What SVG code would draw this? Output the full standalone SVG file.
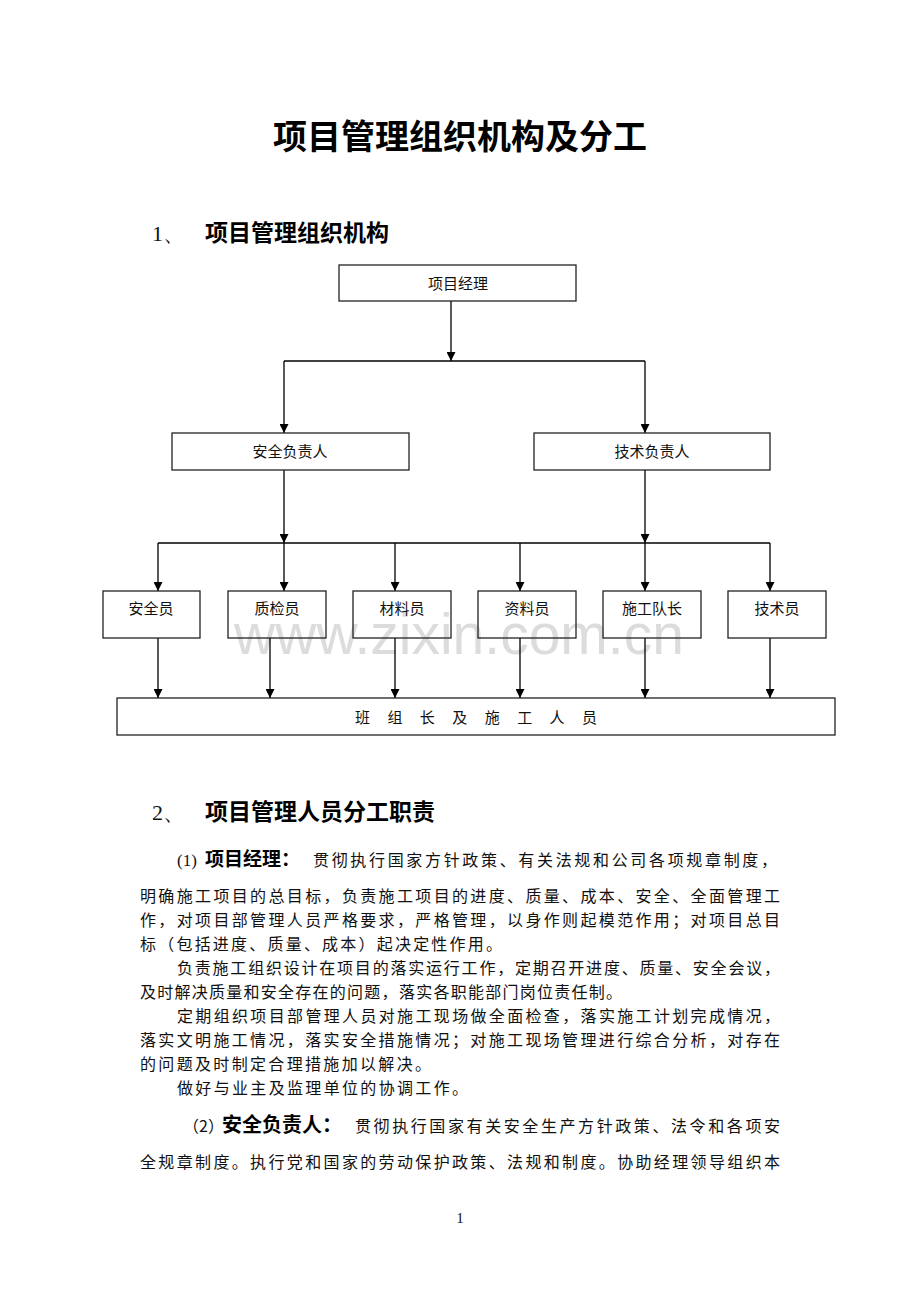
<svg xmlns="http://www.w3.org/2000/svg" width="920" height="1302" viewBox="0 0 920 1302">
<defs>
<style>
.cjk{font-family:"Noto Sans CJK SC","Liberation Serif",sans-serif;fill:#000}
.lbl{font-family:"Noto Sans CJK SC",sans-serif;font-size:15px;fill:#111;text-anchor:middle}
.box{fill:none;stroke:#222;stroke-width:1.3}
.cn{fill:none;stroke:#000;stroke-width:1.3}
.body{font-family:"Noto Sans CJK SC",sans-serif;font-size:16px;fill:#111}
.bold{font-family:"Noto Sans CJK SC",sans-serif;font-weight:bold;fill:#000}
.ser{font-family:"Liberation Serif",serif;fill:#111}
</style>
<marker id="ah" viewBox="0 0 10 10" refX="10" refY="5" markerWidth="12" markerHeight="9" orient="auto" markerUnits="userSpaceOnUse">
<path d="M0,0 L10,5 L0,10 z" fill="#000"/>
</marker>
</defs>
<rect width="920" height="1302" fill="#fff"/>

<text x="460" y="149" class="bold" font-size="34" text-anchor="middle">项目管理组织机构及分工</text>
<text x="152" y="241" class="ser" font-size="22">1、</text>
<text x="205" y="241" class="bold" font-size="23">项目管理组织机构</text>

<text x="459" y="654" font-family="Liberation Sans, sans-serif" font-size="57" fill="#dcdcdc" text-anchor="middle">www.zixin.com.cn</text>

<g id="connectors">
<path class="cn" d="M451,301 V361" marker-end="url(#ah)"/>
<path class="cn" d="M284,361 H645"/>
<path class="cn" d="M284,361 V433" marker-end="url(#ah)"/>
<path class="cn" d="M645,361 V433" marker-end="url(#ah)"/>
<path class="cn" d="M284,470 V543" marker-end="url(#ah)"/>
<path class="cn" d="M645,470 V543" marker-end="url(#ah)"/>
<path class="cn" d="M158,543 H770"/>
<path class="cn" d="M158,543 V591" marker-end="url(#ah)"/>
<path class="cn" d="M284,543 V591" marker-end="url(#ah)"/>
<path class="cn" d="M395,543 V591" marker-end="url(#ah)"/>
<path class="cn" d="M520,543 V591" marker-end="url(#ah)"/>
<path class="cn" d="M645,543 V591" marker-end="url(#ah)"/>
<path class="cn" d="M770,543 V591" marker-end="url(#ah)"/>
<path class="cn" d="M158,638 V698" marker-end="url(#ah)"/>
<path class="cn" d="M270,638 V698" marker-end="url(#ah)"/>
<path class="cn" d="M395,638 V698" marker-end="url(#ah)"/>
<path class="cn" d="M520,638 V698" marker-end="url(#ah)"/>
<path class="cn" d="M645,638 V698" marker-end="url(#ah)"/>
<path class="cn" d="M770,638 V698" marker-end="url(#ah)"/>
</g>

<g id="n-pm"><rect class="box" x="339" y="265" width="237" height="36"/><text class="lbl" x="458" y="289">项目经理</text></g>
<g id="n-safety-lead"><rect class="box" x="172" y="433" width="237" height="37"/><text class="lbl" x="290" y="457">安全负责人</text></g>
<g id="n-tech-lead"><rect class="box" x="534" y="433" width="236" height="37"/><text class="lbl" x="652" y="457">技术负责人</text></g>
<g id="n-safety"><rect class="box" x="103" y="591" width="97" height="47"/><text class="lbl" x="151" y="614">安全员</text></g>
<g id="n-qc"><rect class="box" x="228" y="591" width="98" height="47"/><text class="lbl" x="277" y="614">质检员</text></g>
<g id="n-material"><rect class="box" x="353" y="591" width="98" height="47"/><text class="lbl" x="402" y="614">材料员</text></g>
<g id="n-docs"><rect class="box" x="478" y="591" width="98" height="47"/><text class="lbl" x="527" y="614">资料员</text></g>
<g id="n-foreman"><rect class="box" x="603" y="591" width="98" height="47"/><text class="lbl" x="652" y="614">施工队长</text></g>
<g id="n-tech"><rect class="box" x="728" y="591" width="98" height="47"/><text class="lbl" x="777" y="614">技术员</text></g>
<g id="n-workers"><rect class="box" x="117" y="698" width="718" height="37"/><text class="lbl" x="355" y="723" style="text-anchor:start" textLength="242" lengthAdjust="spacing">班 组 长 及 施 工 人 员</text></g>

<text x="152" y="820" class="ser" font-size="22">2、</text>
<text x="205" y="820" class="bold" font-size="23">项目管理人员分工职责</text>

<text y="866"><tspan x="177" class="ser" font-size="17">(1)</tspan><tspan x="205" class="bold" font-size="19">项目经理：</tspan><tspan x="313" class="body" textLength="464" lengthAdjust="spacing">贯彻执行国家方针政策、有关法规和公司各项规章制度，</tspan></text>
<text x="140" y="902" class="body" textLength="640" lengthAdjust="spacing">明确施工项目的总目标，负责施工项目的进度、质量、成本、安全、全面管理工</text>
<text x="140" y="926" class="body" textLength="640" lengthAdjust="spacing">作，对项目部管理人员严格要求，严格管理，以身作则起模范作用；对项目总目</text>
<text x="140" y="950" class="body" textLength="362" lengthAdjust="spacing">标（包括进度、质量、成本）起决定性作用。</text>
<text x="177" y="974" class="body" textLength="603" lengthAdjust="spacing">负责施工组织设计在项目的落实运行工作，定期召开进度、质量、安全会议，</text>
<text x="140" y="998" class="body" textLength="482" lengthAdjust="spacing">及时解决质量和安全存在的问题，落实各职能部门岗位责任制。</text>
<text x="177" y="1022" class="body" textLength="603" lengthAdjust="spacing">定期组织项目部管理人员对施工现场做全面检查，落实施工计划完成情况，</text>
<text x="140" y="1046" class="body" textLength="640" lengthAdjust="spacing">落实文明施工情况，落实安全措施情况；对施工现场管理进行综合分析，对存在</text>
<text x="140" y="1070" class="body" textLength="291" lengthAdjust="spacing">的问题及时制定合理措施加以解决。</text>
<text x="177" y="1094" class="body" textLength="291" lengthAdjust="spacing">做好与业主及监理单位的协调工作。</text>
<text y="1132"><tspan x="183" class="body">（2）</tspan><tspan x="222" class="bold" font-size="20">安全负责人：</tspan><tspan x="355" class="body" textLength="425" lengthAdjust="spacing">贯彻执行国家有关安全生产方针政策、法令和各项安</tspan></text>
<text x="140" y="1168" class="body" textLength="640" lengthAdjust="spacing">全规章制度。执行党和国家的劳动保护政策、法规和制度。协助经理领导组织本</text>
<text x="460" y="1223" class="ser" font-size="15" text-anchor="middle">1</text>
</svg>
